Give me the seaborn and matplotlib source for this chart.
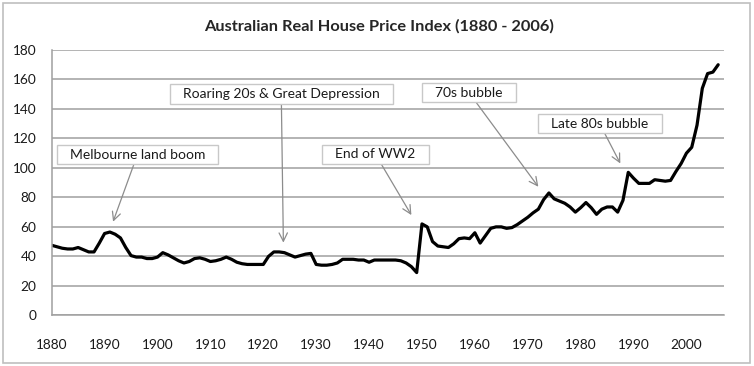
import numpy as np
import pandas as pd
import matplotlib
matplotlib.use('Agg')
import matplotlib.pyplot as plt
import seaborn as sns
from matplotlib.path import Path
from matplotlib.patches import Rectangle
from matplotlib.ticker import MultipleLocator

years = np.arange(1880, 2007)
index_values = [
    47.5, 46.5, 45.5, 45, 45, 46, 44.5, 43, 43, 49,          # 1880s
    55.5, 56.5, 55, 52.5, 46, 40.5, 39.5, 39.5, 38.5, 38.5,  # 1890s
    39.5, 42.5, 41, 39, 37, 35.5, 36.5, 38.5, 39, 38,        # 1900s
    36.5, 37, 38, 39.5, 38, 36, 35, 34.5, 34.5, 34.5,        # 1910s
    34.5, 40, 43, 43, 42.5, 41, 39.5, 40.5, 41.5, 42,        # 1920s
    34.5, 34, 34, 34.5, 35.5, 38, 38, 38, 37.5, 37.5,        # 1930s
    36, 37.5, 37.5, 37.5, 37.5, 37.5, 37, 35.5, 33, 29,      # 1940s
    62, 60, 50, 47, 46.5, 46, 48.5, 52, 52.5, 52,            # 1950s
    56, 49, 54, 59, 60, 60, 59, 59.5, 61.5, 64,              # 1960s
    66.5, 69.5, 72, 78.5, 83, 79, 77.5, 76, 73.5, 70,        # 1970s
    73, 76.5, 73, 68.5, 72, 73.5, 73.5, 70, 78, 97,          # 1980s
    93, 89.5, 89.5, 89.5, 92, 91.5, 91, 91.5, 97.5, 103,     # 1990s
    110, 114, 129, 154, 164, 165, 170,                       # 2000s
]

# annotation labels, arrow targets (year, index) and label centres
notes = ['Melbourne land boom', 'Roaring 20s & Great Depression', 'End of WW2',
         '70s bubble', 'Late 80s bubble']
note_targets = [(1891.6, 63.5), (1923.8, 49.3), (1948.0, 68), (1972.0, 87.2), (1987.5, 103)]
note_centres = [(1896.2, 109), (1923.4, 150.2), (1941.2, 109.3), (1958.9, 151), (1983.6, 130)]

df = pd.DataFrame({'year': years, 'index': index_values})

sns.set_style('white')
plt.rcParams['font.family'] = ['Lato', 'DejaVu Sans']

fig = plt.figure(figsize=(7.54, 3.66), dpi=100)
ax = fig.add_axes([51.7 / 754, 1 - 315.3 / 366, (724 - 51.7) / 754, (315.3 - 50) / 366])

grid_col = '#9f9f9f'
sns.lineplot(data=df, x='year', y='index', color='black', linewidth=2.3, ax=ax)

ax.set_xlim(1880, 2007.1)
ax.set_ylim(0, 180)
ax.yaxis.set_major_locator(MultipleLocator(20))
ax.xaxis.set_major_locator(MultipleLocator(10))
ax.xaxis.set_minor_locator(MultipleLocator(5))
ax.grid(axis='y', color=grid_col, linewidth=1.1)
ax.set_axisbelow(True)
ax.set_xlabel('')
ax.set_ylabel('')
for side in ['top', 'right']:
    ax.spines[side].set_visible(False)
for side in ['left', 'bottom']:
    ax.spines[side].set_color(grid_col)
    ax.spines[side].set_linewidth(1.1)
ax.tick_params(axis='both', which='both', direction='out', length=5, width=1,
               color=grid_col, labelsize=9.8, labelcolor='#1a1a1a')
ax.tick_params(axis='x', which='major', pad=12)
ax.tick_params(axis='y', pad=6)
ax.set_xticklabels([str(int(t)) if t <= 2000 else '' for t in ax.get_xticks()])


def wide_box(x0, y0, width, height, mutation_size):
    padx = 0.95 * mutation_size
    pady = 0.26 * mutation_size
    x0, y0 = x0 - padx, y0 - pady
    w, h = width + 2 * padx, height + 2 * pady
    return Path([(x0, y0), (x0 + w, y0), (x0 + w, y0 + h), (x0, y0 + h), (x0, y0)],
                closed=True)


for label, tip, centre in zip(notes, note_targets, note_centres):
    ax.annotate(label, xy=tip, xytext=centre, ha='center', va='center',
                fontsize=10, color='#1a1a1a',
                bbox=dict(boxstyle=wide_box, fc='white', ec='#c8c8c8', lw=1),
                arrowprops=dict(arrowstyle='->,head_length=0.6,head_width=0.3',
                                color='#8c8c8c', lw=0.9, shrinkA=0, shrinkB=0))

fig.text(0.5025, 1 - 26 / 366, 'Australian Real House Price Index (1880 - 2006)',
         ha='center', va='center', fontsize=11.8, fontweight='bold')

fig.patches.append(Rectangle((3 / 754, 3 / 366), 747 / 754, 360 / 366,
                             transform=fig.transFigure, fill=False,
                             edgecolor='#bfbfbf', linewidth=1.2))

fig.savefig('out.png', dpi=100)
